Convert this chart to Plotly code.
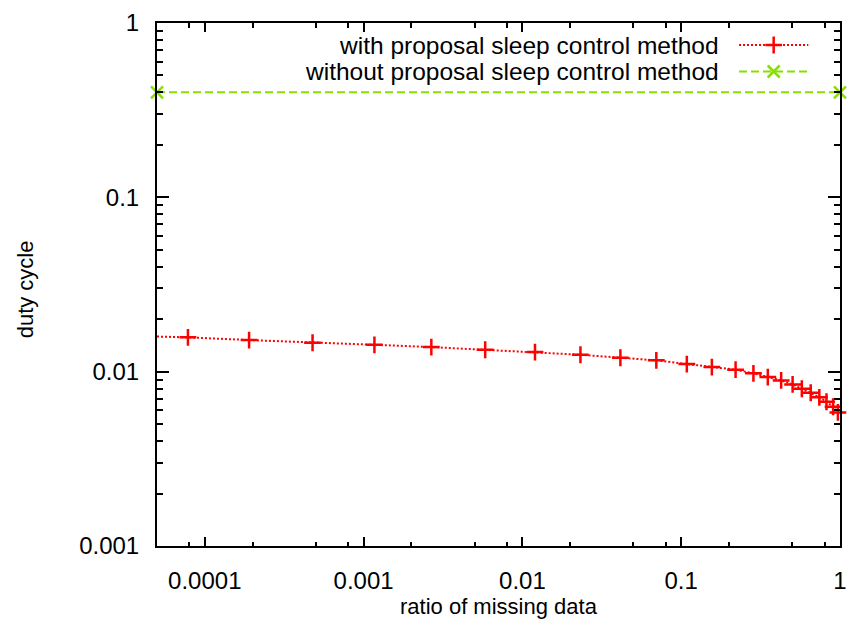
import plotly.graph_objects as go

# ---- data ----
# duty cycle with the proposed sleep control method (sampled points)
ratio_with = [7.83e-5, 1.90e-4, 4.77e-4, 1.17e-3, 2.67e-3, 5.83e-3, 0.0120, 0.0232,
              0.0414, 0.0697, 0.1085, 0.156, 0.220, 0.285, 0.351, 0.426, 0.503,
              0.575, 0.654, 0.741, 0.822, 0.905, 0.97]
duty_with = [0.01573, 0.01518, 0.01465, 0.01426, 0.01384, 0.01336, 0.01295, 0.01250,
             0.01202, 0.01161, 0.01106, 0.01062, 0.01026, 0.00978, 0.00931, 0.00891,
             0.00845, 0.00798, 0.00757, 0.00713, 0.00672, 0.00629, 0.00584]
# curve end values at the edges of the x range
ratio_edges = [5e-5, 1.0]
duty_edges = [0.0159, 0.00565]

# duty cycle without the proposed method (constant)
ratio_without = [5e-5, 1.0]
duty_without = [0.4, 0.4]

x_tickvals = [1e-4, 1e-3, 1e-2, 1e-1, 1]
x_ticktext = ["0.0001", "0.001", "0.01", "0.1", "1"]
y_tickvals = [1e-3, 1e-2, 1e-1, 1]
y_ticktext = ["0.001", "0.01", "0.1", "1"]

name_with = "with proposal sleep control method"
name_without = "without proposal sleep control method"

# ---- styling ----
RED = "#ff0000"
GREEN = "#88e000"
FONT = "Liberation Sans, Arial, Helvetica, sans-serif"
W, H = 856, 630
ML, MR, MT, MB = 157, 9, 23, 84
PW, PH = W - ML - MR, H - MT - MB

x_minor = [m * 10.0 ** e for e in range(-5, 0) for m in (2, 5, 8) if 5e-5 <= m * 10.0 ** e < 1]
y_minor = [m * 10.0 ** e for e in range(-3, 0) for m in range(2, 10)]

curve_x = [ratio_edges[0]] + ratio_with + [ratio_edges[1]]
curve_y = [duty_edges[0]] + duty_with + [duty_edges[1]]

fig = go.Figure()

fig.add_trace(go.Scatter(
    x=curve_x, y=curve_y, mode="lines", showlegend=False,
    line=dict(color=RED, width=2, dash="2px,2px"), hoverinfo="skip"))
fig.add_trace(go.Scatter(
    x=ratio_with, y=duty_with, mode="markers", name=name_with, showlegend=False,
    marker=dict(symbol="cross-thin", size=12, line=dict(width=2.5, color=RED)),
    cliponaxis=False))
fig.add_trace(go.Scatter(
    x=ratio_without, y=duty_without, mode="lines+markers", name=name_without,
    showlegend=False,
    line=dict(color=GREEN, width=2, dash="8px,4px"),
    marker=dict(symbol="x-thin", size=12, line=dict(width=2.5, color=GREEN)),
    cliponaxis=False))

# key entries (gnuplot style: text right-aligned, sample on the right)
key_rows = [(name_with, RED, "2px,2px", "cross-thin", 22),
            (name_without, GREEN, "8px,4px", "x-thin", 48.5)]
key_text_right, key_x0, key_x1 = 570, 588, 658
for label, col, dash, sym, ky in key_rows:
    fig.add_trace(go.Scatter(
        x=[key_x0, key_x1], y=[ky, ky], mode="lines", xaxis="x2", yaxis="y2",
        showlegend=False, line=dict(color=col, width=2, dash=dash), hoverinfo="skip"))
    fig.add_trace(go.Scatter(
        x=[(key_x0 + key_x1) / 2], y=[ky], mode="markers", xaxis="x2", yaxis="y2",
        showlegend=False, hoverinfo="skip",
        marker=dict(symbol=sym, size=12, line=dict(width=2.5, color=col))))
    fig.add_annotation(x=key_text_right, y=ky, xref="x2", yref="y2", text=label,
                       showarrow=False, xanchor="right", yanchor="middle",
                       font=dict(family=FONT, size=24.5, color="black"))

axis_common = dict(
    type="log", showline=True, linecolor="black", linewidth=2, mirror="allticks",
    ticks="inside", tickcolor="black", tickwidth=1.5, showgrid=False, zeroline=False,
    tickfont=dict(family=FONT, size=24, color="black"), tickmode="array")

fig.update_layout(
    width=W, height=H, margin=dict(l=ML, r=MR, t=MT, b=MB),
    paper_bgcolor="white", plot_bgcolor="white", showlegend=False,
    xaxis=dict(axis_common, range=[-4.30103, 0], tickvals=x_tickvals, ticktext=x_ticktext,
               ticklen=9, ticklabelstandoff=12,
               minor=dict(tickvals=x_minor, ticks="inside", ticklen=4.5,
                          tickwidth=1.5, tickcolor="black", showgrid=False)),
    yaxis=dict(axis_common, range=[-3, 0], tickvals=y_tickvals, ticktext=y_ticktext,
               ticklen=12, ticklabelstandoff=11,
               minor=dict(tickvals=y_minor, ticks="inside", ticklen=6,
                          tickwidth=1.5, tickcolor="black", showgrid=False)),
    xaxis2=dict(overlaying="x", anchor="y2", range=[0, PW], visible=False, fixedrange=True),
    yaxis2=dict(overlaying="y", anchor="x2", range=[PH, 0], visible=False, fixedrange=True),
)

fig.add_annotation(x=0.5, y=(H - MB - 606) / PH, xref="paper", yref="paper",
                   text="ratio of missing data", showarrow=False,
                   xanchor="center", yanchor="middle",
                   font=dict(family=FONT, size=22, color="black"))
fig.add_annotation(x=(25 - ML) / PW, y=(H - MB - 289) / PH, xref="paper", yref="paper",
                   text="duty cycle", showarrow=False, textangle=-90,
                   xanchor="center", yanchor="middle",
                   font=dict(family=FONT, size=22, color="black"))

fig.write_html("out.html")
